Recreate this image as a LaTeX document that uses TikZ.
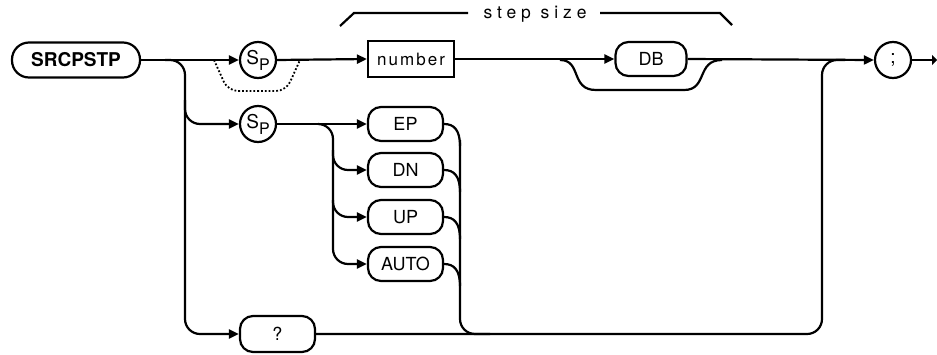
\documentclass[tikz,border=0pt]{standalone}
\usepackage{fontspec}
\setmainfont{TeX Gyre Heros}
\newfontfamily\spacedfont[LetterSpace=28]{TeX Gyre Heros}
\newfontfamily\numfont[LetterSpace=12]{TeX Gyre Heros}
\usetikzlibrary{arrows.meta}
\begin{document}
\begin{tikzpicture}[x=1pt,y=-1pt,
  line width=2.2pt,
  arr/.style={-{Triangle[length=10pt,width=9pt]}},
  kw/.style={draw,rectangle,rounded corners=13pt,minimum width=75pt,minimum height=34pt,inner sep=0pt,font=\fontsize{18}{18}\selectfont},
  sqbox/.style={draw,rectangle,minimum width=86pt,minimum height=36pt,inner sep=0pt,font=\numfont\fontsize{17}{17}\selectfont},
  circ/.style={draw,circle,minimum size=36pt,inner sep=0pt,font=\fontsize{19}{19}\selectfont},
  joinline/.style={rounded corners=15pt}]
\useasboundingbox (0,0) rectangle (937,354);
% nodes
\node[draw,rectangle,rounded corners=17pt,minimum width=128pt,minimum height=35pt,inner sep=0pt,font=\bfseries\fontsize{19}{19}\selectfont] (src) at (76,60) {SRCPSTP};
\node[circ] (sp1) at (258,60) {S\raisebox{-6pt}{\fontsize{16}{16}\selectfont P}};
\node[circ] (sp2) at (258,124) {S\raisebox{-6pt}{\fontsize{16}{16}\selectfont P}};
\node[sqbox] (num) at (411,59) {number};
\node[kw,minimum width=71pt] (db) at (651,59) {DB};
\node[kw] (ep) at (405.5,124) {EP};
\node[kw] (dn) at (405.5,170) {DN};
\node[kw] (up) at (405.5,217) {UP};
\node[kw] (auto) at (405.5,264) {AUTO};
\node[kw,minimum height=36pt] (q) at (277.5,334) {?};
\node[circ] (semi) at (893,60) {;};
\node[font=\spacedfont\fontsize{17.5}{17.5}\selectfont,inner sep=0pt] (lbl) at (535,14) {step size};
\coordinate (endpt) at (937,60);
\coordinate (b1) at (340,26);
\coordinate (b2) at (354,13);
\coordinate (b3) at (732,25);
\coordinate (b4) at (720,13);
% main line
\draw[arr] (src.east) -- (sp1.west);
\draw[arr] (sp1.east) -- (num.west);
\draw[arr] (num.east) -- (db.west);
\draw[arr] (db.east) -- (semi.west);
\draw[-{Triangle[length=5pt,width=10pt]}] (semi.east) -- (endpt);
% dotted bypass of Sp
\draw[dotted,line width=1.8pt,rounded corners=10pt] (214,60) -- (228,91) -- (286,91) -- (300,60);
% DB bypass
\draw (560,60) .. controls (582,60) and (570,90) .. (596,90) -- (684,90) .. controls (708,90) and (696,60) .. (722,60);
% branches from main
\draw[arr,joinline] (165,60) -| (185,334) -- (q.west);
\draw[arr,joinline] (185,100) |- (sp2.west);
% Sp2 to choices
\draw[arr] (sp2.east) -- (ep.west);
\draw[arr,joinline] (318,124) -| (333,170) -- (dn.west);
\draw[arr,joinline] (333,150) |- (up.west);
\draw[arr,joinline] (333,200) |- (auto.west);
% right collectors
\draw (ep.east) .. controls (454,124) and (460,130) .. (460,146);
\draw (dn.east) .. controls (454,170) and (460,176) .. (460,192);
\draw (up.east) .. controls (454,217) and (460,223) .. (460,239);
\draw (auto.east) .. controls (454,264) and (460,270) .. (460,286);
\draw[joinline] (460,140) |- (490,334);
\draw[joinline] (q.east) -| (822,60) -- (845,60);
% step size brace
\draw (b1) -- (b2) -- (468,13);
\draw (600,13) -- (b4) -- (b3);
\end{tikzpicture}
\end{document}
